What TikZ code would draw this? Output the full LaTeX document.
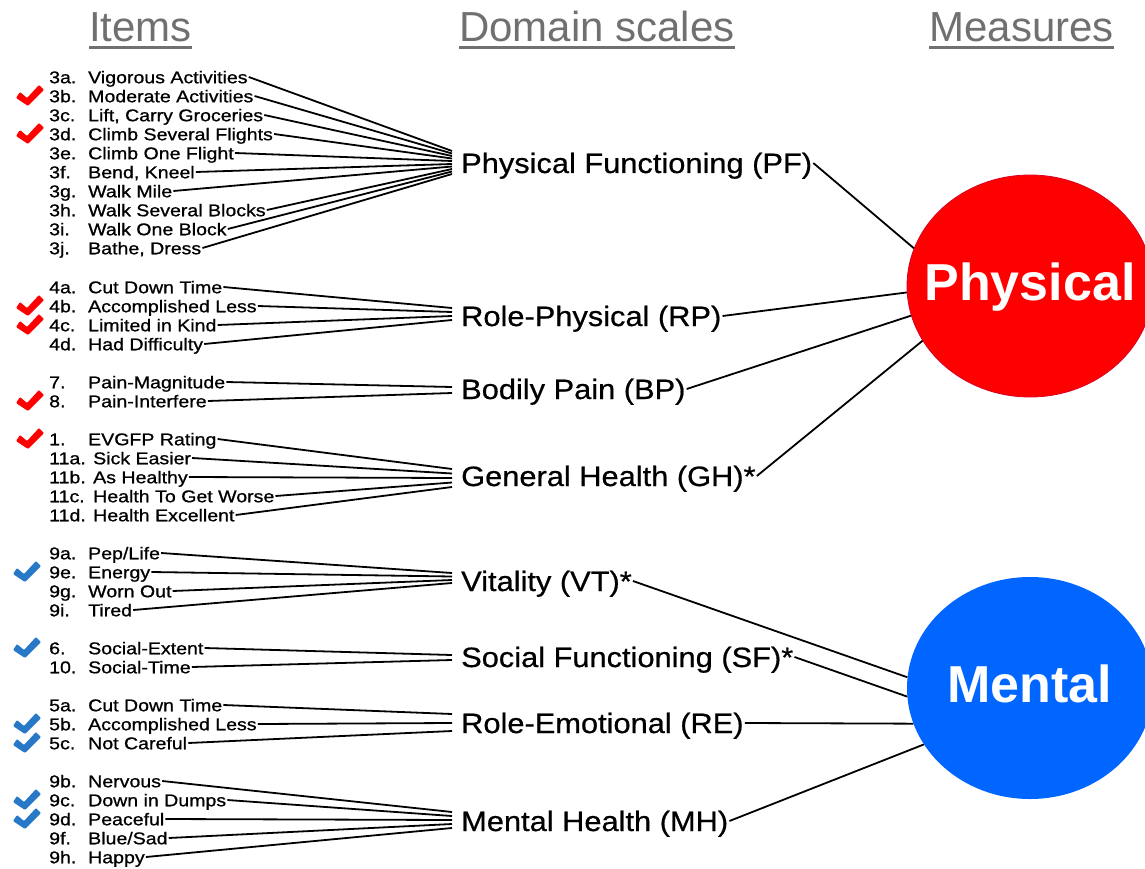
\documentclass[tikz,border=0pt]{standalone}
\usepackage{fontspec}
\setmainfont{Liberation Sans}
\newfontfamily\itemfont[FakeStretch=1.15,FakeBold=0.9]{Liberation Sans}
\newfontfamily\domfont[FakeStretch=1.1,FakeBold=0.6]{Liberation Sans}
\usetikzlibrary{shapes.geometric}
\definecolor{hdrgray}{RGB}{112,112,112}
\definecolor{physred}{RGB}{255,0,0}
\definecolor{mentblue}{RGB}{0,102,255}
\definecolor{chkblue}{RGB}{40,120,200}
\newcommand\itm[6][39pt]{%
  \node[itm] (i#2) at (48,#5) {\makebox[#1][l]{#3}#4};
  \coordinate (i#2e) at (452,#6);
  \draw[conn] (i#2.east) -- (i#2e);}
\begin{document}
\begin{tikzpicture}[x=1pt,y=-1pt,
  itm/.style={anchor=west, inner sep=1pt, font=\itemfont\fontsize{17}{19}\selectfont, text height=12.5pt, text depth=0pt},
  dom/.style={anchor=west, inner sep=1pt, font=\domfont\fontsize{28}{32}\selectfont, text height=20pt, text depth=0pt},
  conn/.style={line width=1.8pt, black},
  hdr/.style={anchor=base, inner sep=0pt, text=hdrgray, font=\fontsize{42}{48}\selectfont},
  hdrline/.style={line width=3pt, hdrgray},
  measure/.style={ellipse, minimum width=246pt, minimum height=222pt, inner sep=0pt},
  mlbl/.style={inner sep=0pt, text=white, font=\bfseries\fontsize{52}{60}\selectfont, text height=37pt, text depth=0pt},
  chk/.pic={\fill[pic actions, rounded corners=1pt] (0,2) -- (-12,-6) -- (-8,-12) -- (-1,-6) -- (11,-19) -- (16,-14) -- cycle;}
]
\useasboundingbox (0,0) rectangle (1145,869);
\clip (0,0) rectangle (1145,869);

% headers
\node[hdr] (hItems) at (140.5,42) {Items};
\node[hdr] (hDom) at (597,42) {Domain scales};
\node[hdr] (hMeas) at (1021.5,42) {Measures};
\foreach \h in {hItems,hDom,hMeas}
  \draw[hdrline] ([yshift=-5.5pt]\h.base west) -- ([yshift=-5.5pt]\h.base east);

% measures
\node[measure, fill=physred, draw=red!85!blue, line width=0.8pt] (phys) at (1030,286) {};
\node[mlbl] (physl) at (1030,282) {Physical};
\node[measure, fill=mentblue] (ment) at (1030,688) {};
\node[mlbl] (mentl) at (1030,684) {Mental};

% domain scales
\node[dom] (pf) at (460,163) {Physical Functioning (PF)};
\node[dom] (rp) at (460,316) {Role-Physical (RP)};
\node[dom] (bp) at (460,389) {Bodily Pain (BP)};
\node[dom] (gh) at (460,476) {General Health (GH)*};
\node[dom] (vt) at (460,581) {Vitality (VT)*};
\node[dom] (sf) at (460,657) {Social Functioning (SF)*};
\node[dom] (re) at (460,723) {Role-Emotional (RE)};
\node[dom] (mh) at (460,821) {Mental Health (MH)};

\draw[conn] (pf.east) -- (phys.162);
\draw[conn] (rp.east) -- (phys.183);
\draw[conn] (bp.east) -- (phys.194);
\draw[conn] (gh.east) -- (phys.207);
\draw[conn] (vt.east) -- (ment.175);
\draw[conn] (sf.east) -- (ment.184);
\draw[conn] (re.east) -- (ment.197);
\draw[conn] (mh.east) -- (ment.208);

% items
\itm{3a}{3a.}{Vigorous Activities}{77}{151}
\itm{3b}{3b.}{Moderate Activities}{96}{153.5}
\itm{3c}{3c.}{Lift, Carry Groceries}{115}{156}
\itm{3d}{3d.}{Climb Several Flights}{134}{158.5}
\itm{3e}{3e.}{Climb One Flight}{153}{161}
\itm{3f}{3f.}{Bend, Kneel}{172}{164}
\itm{3g}{3g.}{Walk Mile}{191}{166.5}
\itm{3h}{3h.}{Walk Several Blocks}{210}{169}
\itm{3i}{3i.}{Walk One Block}{229}{171.5}
\itm{3j}{3j.}{Bathe, Dress}{248}{174}

\itm{4a}{4a.}{Cut Down Time}{287}{308}
\itm{4b}{4b.}{Accomplished Less}{306}{312}
\itm{4c}{4c.}{Limited in Kind}{325}{316}
\itm{4d}{4d.}{Had Difficulty}{344}{320}

\itm{7}{7.}{Pain-Magnitude}{382}{387}
\itm{8}{8.}{Pain-Interfere}{401}{393}

\itm{1}{1.}{EVGFP Rating}{439}{469}
\itm[44pt]{11a}{11a.}{Sick Easier}{458}{473.5}
\itm[44pt]{11b}{11b.}{As Healthy}{477}{478}
\itm[44pt]{11c}{11c.}{Health To Get Worse}{496}{482.5}
\itm[44pt]{11d}{11d.}{Health Excellent}{515}{487}

\itm{9a}{9a.}{Pep/Life}{553}{573}
\itm{9e}{9e.}{Energy}{572}{576.5}
\itm{9g}{9g.}{Worn Out}{591}{580}
\itm{9i}{9i.}{Tired}{610}{583}

\itm{6}{6.}{Social-Extent}{648}{655}
\itm{10}{10.}{Social-Time}{667}{660}

\itm{5a}{5a.}{Cut Down Time}{705}{714}
\itm{5b}{5b.}{Accomplished Less}{724}{723}
\itm{5c}{5c.}{Not Careful}{743}{731}

\itm{9b}{9b.}{Nervous}{781}{812}
\itm{9c}{9c.}{Down in Dumps}{800}{816}
\itm{9d}{9d.}{Peaceful}{819}{820}
\itm{9f}{9f.}{Blue/Sad}{838}{824}
\itm{9h}{9h.}{Happy}{857}{828}

% check marks
\foreach \y in {96,134,306,325,401,439}
  \pic[fill=physred] at (28,\y+8) {chk};
\foreach \y in {572,648,724,743,800,819}
  \pic[fill=chkblue] at (25,\y+8) {chk};
\end{tikzpicture}
\end{document}
